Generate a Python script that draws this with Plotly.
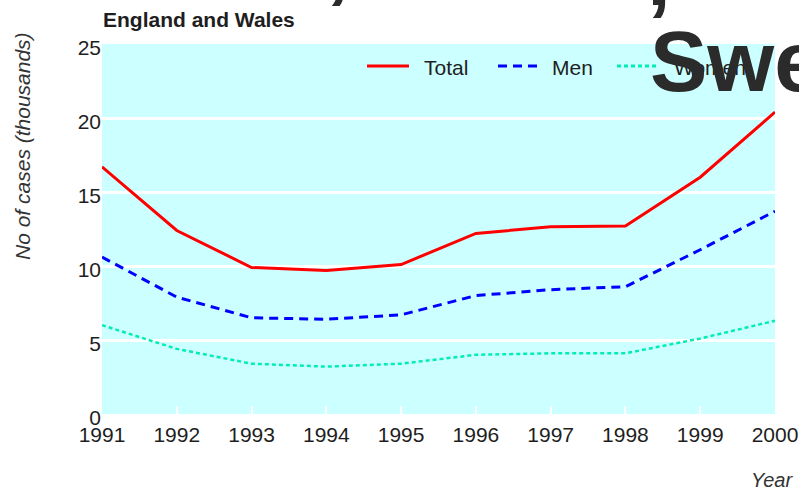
import plotly.graph_objects as go

# Annual case counts (thousands), England and Wales
years = [1991, 1992, 1993, 1994, 1995, 1996, 1997, 1998, 1999, 2000]
total = [16.7, 12.4, 9.9, 9.7, 10.1, 12.2, 12.65, 12.7, 16.0, 20.4]
men = [10.6, 7.9, 6.5, 6.4, 6.7, 8.0, 8.4, 8.6, 11.1, 13.7]
women = [6.0, 4.4, 3.4, 3.2, 3.4, 4.0, 4.1, 4.1, 5.1, 6.3]

y_ticks = [0, 5, 10, 15, 20, 25]

RED = "#FF0000"
BLUE = "#0000FF"
TEAL = "#00EEB4"
BG = "#CCFFFF"
TXT = "#1e1e1e"
FONT = "Liberation Sans, Arial, sans-serif"

W, H = 799, 494
L, R, T, B = 102, 24, 44, 80
PW, PH = W - L - R, H - T - B


def px(x):
    return (x - L) / PW


def py(y):
    return (H - B - y) / PH


fig = go.Figure()
fig.add_trace(go.Scatter(x=years, y=total, mode="lines", name="Total",
                         line=dict(color=RED, width=3)))
fig.add_trace(go.Scatter(x=years, y=men, mode="lines", name="Men",
                         line=dict(color=BLUE, width=3, dash="9px,6px")))
fig.add_trace(go.Scatter(x=years, y=women, mode="lines", name="Women",
                         line=dict(color=TEAL, width=2.5, dash="4px,3px")))

shapes = []
annotations = []

# Legend row along the top of the plot
legend_items = [
    ("Total", RED, None, 367, 409, 422),
    ("Men", BLUE, "9px,6px", 498, 537, 550),
    ("Women", TEAL, "4px,3px", 617, 658, 672),
]
for label, color, dash, x0, x1, tx in legend_items:
    ln = dict(color=color, width=3)
    if dash:
        ln["dash"] = dash
    shapes.append(dict(type="line", xref="paper", yref="paper",
                       x0=px(x0), x1=px(x1), y0=py(66), y1=py(66), line=ln))
    annotations.append(dict(text=label, xref="paper", yref="paper",
                            x=px(tx), y=py(67), xanchor="left", yanchor="middle",
                            showarrow=False,
                            font=dict(family=FONT, size=21, color=TXT)))

annotations += [
    dict(text="<b>England and Wales</b>", xref="paper", yref="paper",
         x=px(101), y=py(19), xanchor="left", yanchor="middle", showarrow=False,
         font=dict(family=FONT, size=21, color=TXT)),
    dict(text="<i>No of cases (thousands)</i>", xref="paper", yref="paper",
         x=px(22), y=py(146), xanchor="center", yanchor="middle", textangle=-90,
         showarrow=False, font=dict(family=FONT, size=21, color="#333333")),
    dict(text="<i>Year</i>", xref="paper", yref="paper",
         x=px(795), y=py(480), xanchor="right", yanchor="middle", showarrow=False,
         font=dict(family=FONT, size=20, color="#333333")),
    dict(text="<b>Swe</b>", xref="paper", yref="paper",
         x=px(648), y=py(61), xanchor="left", yanchor="middle", showarrow=False,
         font=dict(family=FONT, size=86, color="#2b2b2b")),
    dict(text="<b>,</b>", xref="paper", yref="paper",
         x=px(324), y=py(-37), xanchor="left", yanchor="middle", showarrow=False,
         font=dict(family=FONT, size=86, color="#2b2b2b")),
    dict(text="<b>,</b>", xref="paper", yref="paper",
         x=px(645), y=py(-25), xanchor="left", yanchor="middle", showarrow=False,
         font=dict(family=FONT, size=86, color="#2b2b2b")),
]

fig.update_layout(
    width=W, height=H,
    margin=dict(l=L, r=R, t=T, b=B, pad=0),
    paper_bgcolor="white",
    plot_bgcolor=BG,
    showlegend=False,
    font=dict(family=FONT, size=21, color=TXT),
    shapes=shapes,
    annotations=annotations,
)
fig.update_xaxes(range=[1991, 2000], tickvals=years, ticks="inside",
                 ticklen=8, tickwidth=2, tickcolor="white",
                 showgrid=False, zeroline=False, showline=False,
                 automargin=False, ticklabelstandoff=6,
                 tickfont=dict(family=FONT, size=21, color=TXT))
fig.update_yaxes(range=[0, 25], tickvals=y_ticks, ticks="",
                 showgrid=True, gridcolor="white", gridwidth=3,
                 zeroline=False, showline=False, ticklabelshift=4,
                 automargin=False,
                 tickfont=dict(family=FONT, size=21, color=TXT))

fig.write_html("out.html")
